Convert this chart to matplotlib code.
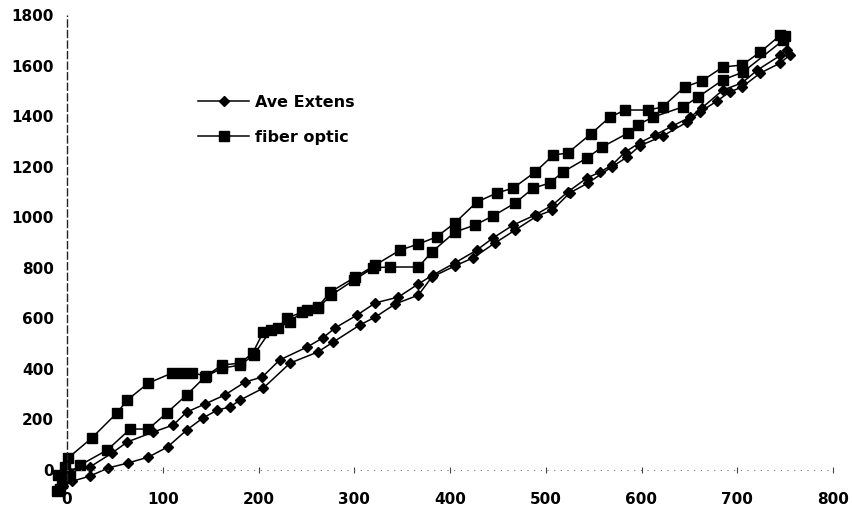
import matplotlib
matplotlib.use("Agg")
import matplotlib.pyplot as plt

# ---------------- data ----------------
# Ave Extens: loading branch (up) and unloading branch (down)
ave_up_x = [-3, 0, 24, 47, 63, 90, 111, 125, 144, 165, 186, 204, 222, 251, 267, 280,
            303, 322, 346, 367, 382, 405, 428, 445, 466, 489, 507, 523, 543, 557,
            569, 583, 598, 614, 632, 651, 663, 685, 705, 721, 745, 752]
ave_up_y = [-30, 0, 12, 67, 111, 150, 178, 229, 261, 297, 348, 368, 435, 487, 522, 562,
            613, 661, 684, 736, 771, 819, 870, 918, 969, 1009, 1048, 1100, 1155, 1179,
            1206, 1258, 1294, 1325, 1360, 1396, 1432, 1503, 1531, 1582, 1640, 1660]
ave_dn_x = [755, 745, 724, 705, 692, 679, 661, 648, 622, 598, 585, 569, 544, 525,
            507, 491, 468, 447, 424, 405, 381, 367, 343, 322, 306, 278, 262, 233,
            205, 181, 170, 157, 142, 125, 105, 85, 64, 43, 24, 5, -4]
ave_dn_y = [1642, 1610, 1570, 1515, 1495, 1460, 1416, 1377, 1321, 1282, 1238, 1199,
            1135, 1096, 1028, 1005, 949, 898, 839, 807, 763, 692, 657, 605, 574, 506,
            467, 423, 324, 277, 249, 237, 206, 158, 91, 51, 28, 8, -24, -45, -65]

# fiber optic: upper branch and lower branch
fib_up_x = [-7, -9, -2, 1, 26, 52, 63, 85, 110, 120, 131, 145, 162, 181, 194, 205,
            220, 230, 251, 262, 275, 301, 322, 348, 367, 386, 405, 428, 449, 466, 489,
            508, 523, 547, 567, 583, 607, 622, 645, 663, 685, 705, 724, 745]
fib_up_y = [-75, -20, 10, 47, 127, 225, 277, 344, 384, 384, 384, 372, 415, 423, 463,
            546, 562, 601, 633, 645, 704, 763, 811, 870, 894, 922, 977, 1060, 1096,
            1115, 1179, 1246, 1254, 1329, 1396, 1424, 1424, 1436, 1515, 1539, 1594,
            1602, 1653, 1720]
fib_dn_x = [750, 748, 706, 685, 659, 643, 612, 596, 586, 559, 543, 518, 504, 487, 468,
            445, 426, 405, 381, 367, 337, 320, 300, 276, 262, 245, 233, 213, 195, 181,
            162, 144, 125, 104, 85, 66, 42, 14, 3, -5, -10]
fib_dn_y = [1715, 1700, 1574, 1543, 1475, 1436, 1396, 1365, 1333, 1278, 1234, 1179,
            1135, 1115, 1056, 1005, 969, 941, 862, 803, 803, 800, 752, 692, 640, 625,
            585, 554, 455, 415, 403, 368, 297, 225, 162, 162, 79, 20, -15, -50, -82]

x_ticks = [0, 100, 200, 300, 400, 500, 600, 700, 800]
y_ticks = [0, 200, 400, 600, 800, 1000, 1200, 1400, 1600, 1800]
series_names = ["Ave Extens", "fiber optic"]

# ---------------- layout ----------------
W, H = 853, 514
fig = plt.figure(figsize=(W / 100, H / 100), dpi=100)
x0px, sx = 67.0, 0.9575     # pixel of x=0, px per unit
y0px, sy = 470.0, 0.2528    # pixel of y=0, px per unit
xlim = (-20, 815)
ylim = (-110, 1830)
L = x0px + xlim[0] * sx
R = x0px + xlim[1] * sx
B = y0px - ylim[0] * sy
T = y0px - ylim[1] * sy
ax = fig.add_axes([L / W, 1 - B / H, (R - L) / W, (B - T) / H])
ax.set_xlim(*xlim)
ax.set_ylim(*ylim)

plt.rcParams["font.family"] = ["DejaVu Sans"]

ave_x = ave_up_x + ave_dn_x
ave_y = ave_up_y + ave_dn_y
fib_x = fib_up_x + fib_dn_x
fib_y = fib_up_y + fib_dn_y

ax.plot(ave_x, ave_y, color="black", lw=1.1, marker="D", ms=5.5,
        label=series_names[0], clip_on=False)
ax.plot(fib_x, fib_y, color="black", lw=1.1, marker="s", ms=7.2,
        label=series_names[1], clip_on=False)

# axes lines (scanned look: dashed y axis, faint dotted x axis)
for s in ax.spines.values():
    s.set_visible(False)
ax.spines["bottom"].set_position(("data", 0))
ax.spines["left"].set_position(("data", 0))
ax.vlines(0, -45, 1800, colors="#222222", linestyles=(0, (6, 1.6)), lw=1.0)
ax.hlines(0, 0, 800, colors="#777777", linestyles=(0, (1, 5)), lw=0.8)

ax.set_xticks(x_ticks)
ax.set_yticks(y_ticks)
ax.tick_params(axis="x", direction="inout", length=4, width=0.8, color="#444444",
               pad=14, labelsize=11)
ax.tick_params(axis="y", length=0, pad=9.5, labelsize=11)
for lab in ax.get_xticklabels() + ax.get_yticklabels():
    lab.set_fontweight("bold")

ax.legend(loc="upper left", bbox_to_anchor=(198 / W, 1 - 95 / H),
          bbox_transform=fig.transFigure, frameon=False, borderpad=0,
          borderaxespad=0, handlelength=3.2, handletextpad=0.4,
          labelspacing=1.25, prop=dict(size=11.5, weight="bold"))

fig.savefig("out.png", dpi=100)
